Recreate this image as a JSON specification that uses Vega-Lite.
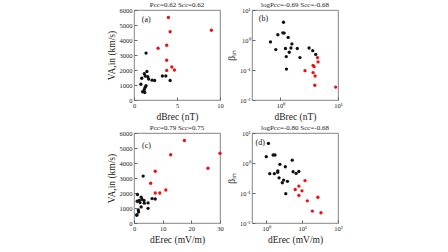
{
  "$schema": "https://vega.github.io/schema/vega-lite/v6.json",
  "padding": {"left": 105, "top": 0, "right": 5, "bottom": 0},
  "background": "white",
  "config": {
    "font": "Liberation Serif",
    "view": {"stroke": "#666", "strokeWidth": 0.8},
    "axis": {
      "grid": false, "domain": false, "ticks": true, "tickSize": -3, "tickColor": "#666",
      "labelFontSize": 6.5, "labelColor": "#222", "labelFont": "Liberation Serif", "labelPadding": 5,
      "labelOverlap": false, "labelBound": false, "labelFlush": false,
      "titleFont": "Liberation Serif", "titleFontSize": 9.5, "titleFontWeight": "normal", "titleColor": "#222", "titlePadding": 3
    },
    "title": {"font": "Liberation Serif", "fontSize": 7, "fontWeight": "normal", "color": "#222", "offset": -1}
  },
  "datasets": {
    "a": [
      {"x": 4.0, "y": 5500, "g": "r"}, {"x": 4.2, "y": 4550, "g": "r"}, {"x": 9.0, "y": 4650, "g": "r"},
      {"x": 2.8, "y": 3450, "g": "r"}, {"x": 3.8, "y": 3650, "g": "r"}, {"x": 3.8, "y": 2650, "g": "r"},
      {"x": 3.8, "y": 1970, "g": "r"}, {"x": 4.4, "y": 2200, "g": "r"}, {"x": 4.7, "y": 2000, "g": "r"},
      {"x": 1.4, "y": 3130, "g": "k"}, {"x": 1.5, "y": 1900, "g": "k"}, {"x": 1.2, "y": 1750, "g": "k"},
      {"x": 1.3, "y": 1600, "g": "k"}, {"x": 1.6, "y": 1550, "g": "k"}, {"x": 0.9, "y": 1450, "g": "k"},
      {"x": 1.7, "y": 1400, "g": "k"}, {"x": 2.1, "y": 1320, "g": "k"}, {"x": 2.4, "y": 1300, "g": "k"},
      {"x": 3.3, "y": 1600, "g": "k"}, {"x": 3.7, "y": 1600, "g": "k"}, {"x": 4.2, "y": 1300, "g": "k"},
      {"x": 0.8, "y": 1050, "g": "k"}, {"x": 1.4, "y": 950, "g": "k"}, {"x": 1.3, "y": 850, "g": "k"},
      {"x": 1.2, "y": 700, "g": "k"}, {"x": 1.0, "y": 550, "g": "k"}, {"x": 1.25, "y": 500, "g": "k"}
    ],
    "b": [
      {"x": 1.13, "y": 3.9, "g": "k"}, {"x": 0.9, "y": 1.5, "g": "k"}, {"x": 1.1, "y": 1.74, "g": "k"},
      {"x": 1.16, "y": 1.7, "g": "k"}, {"x": 1.36, "y": 1.22, "g": "k"}, {"x": 0.67, "y": 0.86, "g": "k"},
      {"x": 1.58, "y": 0.74, "g": "k"}, {"x": 0.83, "y": 0.48, "g": "k"}, {"x": 1.22, "y": 0.52, "g": "k"},
      {"x": 1.52, "y": 0.54, "g": "k"}, {"x": 1.96, "y": 0.52, "g": "k"}, {"x": 3.14, "y": 0.54, "g": "k"},
      {"x": 3.64, "y": 0.44, "g": "k"}, {"x": 1.42, "y": 0.39, "g": "k"}, {"x": 1.26, "y": 0.28, "g": "k"},
      {"x": 2.18, "y": 0.26, "g": "k"}, {"x": 4.1, "y": 0.33, "g": "k"}, {"x": 1.27, "y": 0.107, "g": "k"},
      {"x": 4.4, "y": 0.26, "g": "r"}, {"x": 4.5, "y": 0.186, "g": "r"}, {"x": 3.69, "y": 0.142, "g": "r"},
      {"x": 3.84, "y": 0.129, "g": "r"}, {"x": 2.67, "y": 0.095, "g": "r"}, {"x": 3.69, "y": 0.082, "g": "r"},
      {"x": 4.0, "y": 0.063, "g": "r"}, {"x": 3.95, "y": 0.031, "g": "r"}, {"x": 9.1, "y": 0.027, "g": "r"}
    ],
    "c": [
      {"x": 17.6, "y": 5500, "g": "r"}, {"x": 12.8, "y": 4550, "g": "r"}, {"x": 30.0, "y": 4650, "g": "r"},
      {"x": 25.8, "y": 3650, "g": "r"}, {"x": 7.4, "y": 3450, "g": "r"}, {"x": 5.8, "y": 2650, "g": "r"},
      {"x": 7.4, "y": 2000, "g": "r"}, {"x": 9.0, "y": 2000, "g": "r"}, {"x": 11.1, "y": 2200, "g": "r"},
      {"x": 3.2, "y": 3130, "g": "k"}, {"x": 1.2, "y": 1900, "g": "k"}, {"x": 2.5, "y": 1720, "g": "k"},
      {"x": 2.8, "y": 1570, "g": "k"}, {"x": 1.8, "y": 1500, "g": "k"}, {"x": 3.5, "y": 1500, "g": "k"},
      {"x": 1.1, "y": 1450, "g": "k"}, {"x": 2.1, "y": 1360, "g": "k"}, {"x": 3.6, "y": 1320, "g": "k"},
      {"x": 6.3, "y": 1630, "g": "k"}, {"x": 7.4, "y": 1600, "g": "k"}, {"x": 4.9, "y": 1340, "g": "k"},
      {"x": 2.5, "y": 1075, "g": "k"}, {"x": 4.9, "y": 980, "g": "k"}, {"x": 1.5, "y": 870, "g": "k"},
      {"x": 1.6, "y": 740, "g": "k"}, {"x": 1.0, "y": 560, "g": "k"}, {"x": 0.97, "y": 510, "g": "k"}
    ],
    "d": [
      {"x": 1.15, "y": 4.5, "g": "k"}, {"x": 1.0, "y": 1.62, "g": "k"}, {"x": 1.55, "y": 1.85, "g": "k"},
      {"x": 1.75, "y": 1.85, "g": "k"}, {"x": 5.3, "y": 1.24, "g": "k"}, {"x": 2.4, "y": 0.9, "g": "k"},
      {"x": 3.4, "y": 0.75, "g": "k"}, {"x": 1.25, "y": 0.44, "g": "k"}, {"x": 1.68, "y": 0.44, "g": "k"},
      {"x": 2.08, "y": 0.49, "g": "k"}, {"x": 2.1, "y": 0.55, "g": "k"}, {"x": 5.6, "y": 0.51, "g": "k"},
      {"x": 6.8, "y": 0.45, "g": "k"}, {"x": 8.1, "y": 0.52, "g": "k"}, {"x": 2.27, "y": 0.32, "g": "k"},
      {"x": 3.05, "y": 0.27, "g": "k"}, {"x": 3.9, "y": 0.245, "g": "k"}, {"x": 2.8, "y": 0.22, "g": "k"},
      {"x": 3.5, "y": 0.095, "g": "k"},
      {"x": 12.0, "y": 0.26, "g": "r"}, {"x": 8.1, "y": 0.17, "g": "r"}, {"x": 6.4, "y": 0.131, "g": "r"},
      {"x": 9.9, "y": 0.118, "g": "r"}, {"x": 8.1, "y": 0.083, "g": "r"}, {"x": 13.9, "y": 0.055, "g": "r"},
      {"x": 27.5, "y": 0.072, "g": "r"}, {"x": 19.3, "y": 0.025, "g": "r"}, {"x": 33.5, "y": 0.022, "g": "r"}
    ],
    "one": [{}]
  },
  "spacing": {"row": 1, "column": 2},
  "concat": [
    {
      "width": 86, "height": 90,
      "title": "Pcc=0.62  Scc=0.62",
      "layer": [
        {
          "data": {"name": "a"},
          "mark": {"type": "circle", "size": 11, "opacity": 1},
          "encoding": {
            "x": {"field": "x", "type": "quantitative", "scale": {"domain": [0, 10], "nice": false}, "axis": {"values": [0, 5, 10], "labelOverlap": false, "labelExpr": "format(datum.value, 'd')", "title": "dBrec (nT)"}},
            "y": {"field": "y", "type": "quantitative", "scale": {"domain": [0, 6000], "nice": false}, "axis": {"values": [0, 1000, 2000, 3000, 4000, 5000, 6000], "labelOverlap": false, "labelExpr": "format(datum.value, 'd')", "title": "VA,in (km/s)"}},
            "color": {"field": "g", "type": "nominal", "scale": {"domain": ["k", "r"], "range": ["#111111", "#ee1111"]}, "legend": null}
          }
        },
        {
          "data": {"name": "one"},
          "mark": {"type": "text", "fontSize": 8, "align": "left", "baseline": "middle", "color": "#111"},
          "encoding": {
            "x": {"datum": 0.9, "type": "quantitative", "axis": {"values": [0, 5, 10], "labelOverlap": false, "labelExpr": "format(datum.value, 'd')", "title": "dBrec (nT)"}},
            "y": {"datum": 5350, "type": "quantitative", "axis": {"values": [0, 1000, 2000, 3000, 4000, 5000, 6000], "labelOverlap": false, "labelExpr": "format(datum.value, 'd')", "title": "VA,in (km/s)"}},
            "text": {"value": "(a)"}
          }
        }
      ]
    },
    {
      "width": 86, "height": 90,
      "title": "logPcc=-0.69  Scc=-0.68",
      "layer": [
        {
          "data": {"name": "b"},
          "mark": {"type": "circle", "size": 11, "opacity": 1},
          "encoding": {
            "x": {"field": "x", "type": "quantitative", "scale": {"type": "log", "domain": [0.32, 10], "nice": false}, "axis": {"values": [1, 10], "labelOverlap": false, "title": "dBrec (nT)", "labelExpr": "datum.value >= 9 ? '10¹' : '10⁰'"}},
            "y": {"field": "y", "type": "quantitative", "scale": {"type": "log", "domain": [0.01, 10], "nice": false}, "axis": {"values": [0.01, 0.1, 1, 10], "labelOverlap": false, "title": "βᵢₙ", "labelExpr": "datum.value >= 9 ? '10¹' : datum.value >= 0.9 ? '10⁰' : datum.value >= 0.09 ? '10⁻¹' : '10⁻²'"}},
            "color": {"field": "g", "type": "nominal", "scale": {"domain": ["k", "r"], "range": ["#111111", "#ee1111"]}, "legend": null}
          }
        },
        {
          "data": {"name": "one"},
          "mark": {"type": "text", "fontSize": 8, "align": "left", "baseline": "middle", "color": "#111"},
          "encoding": {
            "x": {"datum": 0.42, "type": "quantitative", "axis": {"values": [1, 10], "labelOverlap": false, "title": "dBrec (nT)", "labelExpr": "datum.value >= 9 ? '10¹' : '10⁰'"}},
            "y": {"datum": 5.2, "type": "quantitative", "axis": {"values": [0.01, 0.1, 1, 10], "labelOverlap": false, "title": "βᵢₙ", "labelExpr": "datum.value >= 9 ? '10¹' : datum.value >= 0.9 ? '10⁰' : datum.value >= 0.09 ? '10⁻¹' : '10⁻²'"}},
            "text": {"value": "(b)"}
          }
        }
      ]
    },
    {
      "width": 86, "height": 90,
      "title": "Pcc=0.79  Scc=0.75",
      "layer": [
        {
          "data": {"name": "c"},
          "mark": {"type": "circle", "size": 11, "opacity": 1},
          "encoding": {
            "x": {"field": "x", "type": "quantitative", "scale": {"domain": [0, 30], "nice": false}, "axis": {"values": [0, 10, 20, 30], "labelOverlap": false, "labelExpr": "format(datum.value, 'd')", "title": "dErec (mV/m)"}},
            "y": {"field": "y", "type": "quantitative", "scale": {"domain": [0, 6000], "nice": false}, "axis": {"values": [0, 1000, 2000, 3000, 4000, 5000, 6000], "labelOverlap": false, "labelExpr": "format(datum.value, 'd')", "title": "VA,in (km/s)"}},
            "color": {"field": "g", "type": "nominal", "scale": {"domain": ["k", "r"], "range": ["#111111", "#ee1111"]}, "legend": null}
          }
        },
        {
          "data": {"name": "one"},
          "mark": {"type": "text", "fontSize": 8, "align": "left", "baseline": "middle", "color": "#111"},
          "encoding": {
            "x": {"datum": 2.8, "type": "quantitative", "axis": {"values": [0, 10, 20, 30], "labelOverlap": false, "labelExpr": "format(datum.value, 'd')", "title": "dErec (mV/m)"}},
            "y": {"datum": 5150, "type": "quantitative", "axis": {"values": [0, 1000, 2000, 3000, 4000, 5000, 6000], "labelOverlap": false, "labelExpr": "format(datum.value, 'd')", "title": "VA,in (km/s)"}},
            "text": {"value": "(c)"}
          }
        }
      ]
    },
    {
      "width": 86, "height": 90,
      "title": "logPcc=-0.80  Scc=-0.68",
      "layer": [
        {
          "data": {"name": "d"},
          "mark": {"type": "circle", "size": 11, "opacity": 1},
          "encoding": {
            "x": {"field": "x", "type": "quantitative", "scale": {"type": "log", "domain": [0.4, 100], "nice": false}, "axis": {"values": [1, 10, 100], "labelOverlap": false, "title": "dErec (mV/m)", "labelExpr": "datum.value >= 99 ? '10²' : datum.value >= 9 ? '10¹' : '10⁰'"}},
            "y": {"field": "y", "type": "quantitative", "scale": {"type": "log", "domain": [0.01, 10], "nice": false}, "axis": {"values": [0.01, 0.1, 1, 10], "labelOverlap": false, "title": "βᵢₙ", "labelExpr": "datum.value >= 9 ? '10¹' : datum.value >= 0.9 ? '10⁰' : datum.value >= 0.09 ? '10⁻¹' : '10⁻²'"}},
            "color": {"field": "g", "type": "nominal", "scale": {"domain": ["k", "r"], "range": ["#111111", "#ee1111"]}, "legend": null}
          }
        },
        {
          "data": {"name": "one"},
          "mark": {"type": "text", "fontSize": 8, "align": "left", "baseline": "middle", "color": "#111"},
          "encoding": {
            "x": {"datum": 0.5, "type": "quantitative", "axis": {"values": [1, 10, 100], "labelOverlap": false, "title": "dErec (mV/m)", "labelExpr": "datum.value >= 99 ? '10²' : datum.value >= 9 ? '10¹' : '10⁰'"}},
            "y": {"datum": 4.5, "type": "quantitative", "axis": {"values": [0.01, 0.1, 1, 10], "labelOverlap": false, "title": "βᵢₙ", "labelExpr": "datum.value >= 9 ? '10¹' : datum.value >= 0.9 ? '10⁰' : datum.value >= 0.09 ? '10⁻¹' : '10⁻²'"}},
            "text": {"value": "(d)"}
          }
        }
      ]
    }
  ],
  "columns": 2
}
